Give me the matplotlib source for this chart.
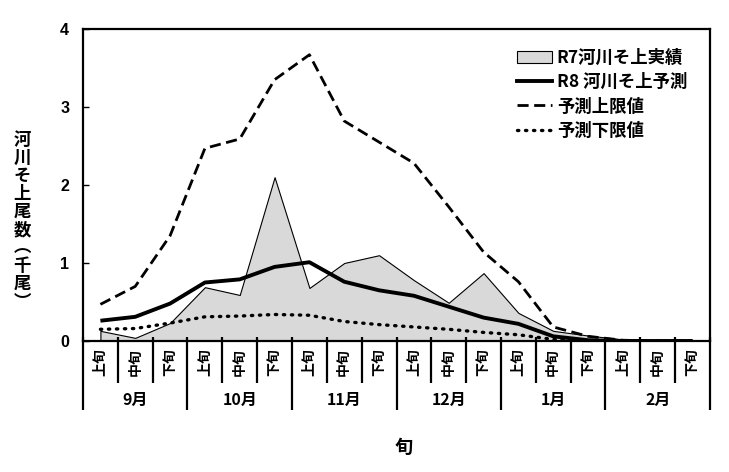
import numpy as np
import matplotlib
matplotlib.use("Agg")
import matplotlib.pyplot as plt
from matplotlib.patches import Patch
from matplotlib.lines import Line2D

plt.rcParams['font.family'] = ['Noto Sans CJK JP', 'DejaVu Sans']
plt.rcParams['font.weight'] = 'bold'

# ---- data ----
decades = ['上旬', '中旬', '下旬'] * 6
months = ['9月', '10月', '11月', '12月', '1月', '2月']
r7_actual = [0.13, 0.04, 0.23, 0.69, 0.59, 2.10, 0.68, 1.00, 1.10,
             0.78, 0.49, 0.87, 0.36, 0.13, 0.07, 0.02, 0.01, 0.01]
r8_forecast = [0.26, 0.31, 0.48, 0.75, 0.79, 0.95, 1.01, 0.76, 0.65,
               0.58, 0.44, 0.30, 0.22, 0.06, 0.01, 0.0, 0.0, 0.0]
upper_limit = [0.47, 0.70, 1.35, 2.47, 2.59, 3.35, 3.67, 2.82, 2.55,
               2.28, 1.72, 1.14, 0.76, 0.18, 0.06, 0.01, 0.0, 0.0]
lower_limit = [0.15, 0.16, 0.23, 0.31, 0.32, 0.34, 0.33, 0.25, 0.21,
               0.18, 0.15, 0.11, 0.08, 0.02, 0.0, 0.0, 0.0, 0.0]
yticks = [0, 1, 2, 3, 4]

labels_legend = ['R7河川そ上実績', 'R8 河川そ上予測', '予測上限値', '予測下限値']

W, H = 729, 472
fig = plt.figure(figsize=(W / 100, H / 100), dpi=100)
L, R, T, B = 83, 710, 29, 341
ax = fig.add_axes([L / W, 1 - B / H, (R - L) / W, (B - T) / H])

dot_style = (0, (0.4, 2.0))
x = np.arange(len(decades))
ax.fill_between(x, r7_actual, 0, facecolor='#d9d9d9', edgecolor='black',
                linewidth=0.8, zorder=1)
ax.plot(x, r8_forecast, color='black', lw=2.8, solid_capstyle='butt', zorder=3)
ax.plot(x, upper_limit, color='black', lw=2.0, linestyle=(0, (4, 2)), zorder=3)
ax.plot(x, lower_limit, color='black', lw=2.4, linestyle=dot_style,
        dash_capstyle='round', zorder=3)

ax.set_xlim(-0.5, len(decades) - 0.5)
ax.set_ylim(0, 4)
ax.set_yticks(yticks)
ax.set_yticklabels([str(v) for v in yticks], fontsize=11.5, fontweight='bold',
                   family=['Liberation Sans', 'DejaVu Sans'])
ax.tick_params(axis='y', direction='in', length=4, width=1, pad=10)
ax.set_xticks([])
for s in ax.spines.values():
    s.set_linewidth(1.6)

# ---- multi-level category axis ----
tr = ax.get_xaxis_transform()
for i in range(len(decades) + 1):
    xb = i - 0.5
    if i % 3 == 0:
        y0 = -0.222
    else:
        y0 = -0.135
    ax.plot([xb, xb], [0.012, y0], color='black', lw=1.6, transform=tr,
            clip_on=False, solid_capstyle='butt')
for i, d in enumerate(decades):
    ax.text(i, -0.067, d, transform=tr, rotation=90, ha='center', va='center',
            fontsize=10, fontweight='bold')
for j, m in enumerate(months):
    ax.text(3 * j + 1, -0.19, m, transform=tr, ha='center', va='center',
            fontsize=11.5, fontweight='bold')

# axis labels
fig.text(22 / W, 1 - 221 / H, '河\n川\nそ\n上\n尾\n数\n︵\n千\n尾\n︶',
         ha='center', va='center', fontsize=12.5, fontweight='bold',
         linespacing=1.0)
fig.text(404 / W, 1 - 447 / H, '旬', ha='center', va='center',
         fontsize=13, fontweight='bold')

# legend
handles = [Patch(facecolor='#d9d9d9', edgecolor='black', linewidth=0.8),
           Line2D([], [], color='black', lw=2.8),
           Line2D([], [], color='black', lw=2.0, linestyle=(0, (4, 2))),
           Line2D([], [], color='black', lw=2.4, linestyle=dot_style,
                  dash_capstyle='round')]
leg = ax.legend(handles, labels_legend, loc='upper left',
                bbox_to_anchor=((510 - L) / (R - L), (B - 42) / (B - T)),
                frameon=False, fontsize=12.5, handlelength=2.0,
                handletextpad=0.3, labelspacing=0.36, borderaxespad=0)
for t in leg.get_texts():
    t.set_fontweight('bold')

fig.savefig('out.png', dpi=100)
